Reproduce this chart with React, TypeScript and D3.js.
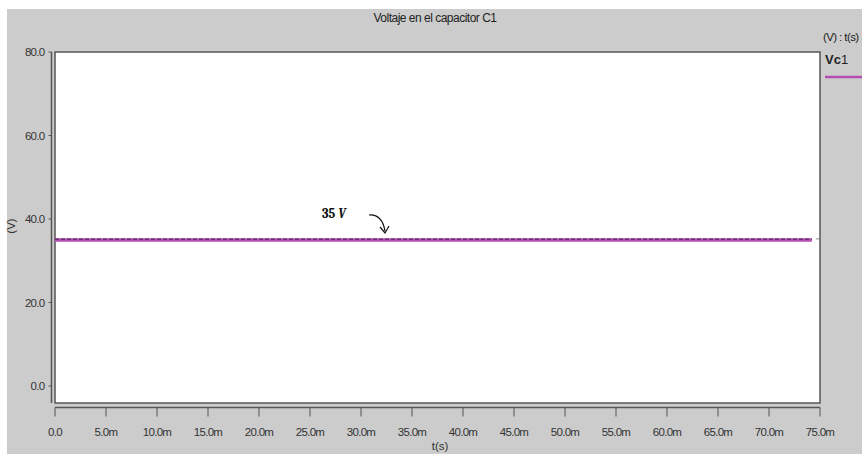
import React, { useEffect, useRef } from 'react';
import * as d3 from 'd3';

// data
const timeS = [0, 0.0742];
const vc1 = [35, 35];
const yTicks = [0, 20, 40, 60, 80];
const xTicks = [0, 5, 10, 15, 20, 25, 30, 35, 40, 45, 50, 55, 60, 65, 70, 75].map(d => d / 1000);
const seriesName = 'Vc1';

export default function App() {
  const ref = useRef<SVGSVGElement | null>(null);

  useEffect(() => {
    if (!ref.current) return;
    const svg = d3.select(ref.current);
    svg.selectAll('*').remove();

    const W = 862, H = 456;
    const left = 55, right = 820, top = 52;
    const font = '"Liberation Sans", Arial, sans-serif';

    // background
    svg.append('rect').attr('width', W).attr('height', H).attr('fill', '#ffffff');
    svg.append('rect').attr('x', 7).attr('y', 9).attr('width', W - 7).attr('height', H - 11).attr('fill', '#cccccc');

    const x = d3.scaleLinear().domain([0, 0.075]).range([left, right]);
    const y = d3.scaleLinear().domain([0, 80]).range([386, top]);
    const bottom = 403;

    // plot area
    svg.append('rect')
      .attr('x', left).attr('y', top)
      .attr('width', right - left).attr('height', bottom - top)
      .attr('fill', '#ffffff').attr('stroke', '#555').attr('stroke-width', 1.5);

    // y axis
    const ya = svg.append('g').attr('transform', 'translate(51.5,0)');
    ya.append('line').attr('y1', top).attr('y2', bottom).attr('stroke', '#555').attr('stroke-width', 1.5);
    ya.selectAll('line.t').data(yTicks).join('line').attr('class', 't')
      .attr('x1', -3).attr('x2', 0).attr('y1', d => y(d)).attr('y2', d => y(d))
      .attr('stroke', '#555');
    ya.selectAll('text').data(yTicks).join('text')
      .attr('x', -7).attr('y', d => y(d) + 4)
      .attr('text-anchor', 'end').attr('font-family', font).attr('font-size', 11.5)
      .attr('letter-spacing', -0.7).attr('fill', '#333')
      .text(d => d3.format('.1f')(d));

    // x axis
    const xa = svg.append('g').attr('transform', 'translate(0,407.5)');
    xa.append('line').attr('x1', left).attr('x2', right).attr('stroke', '#555').attr('stroke-width', 1.5);
    xa.selectAll('line.t').data(xTicks).join('line').attr('class', 't')
      .attr('x1', d => x(d)).attr('x2', d => x(d)).attr('y1', 0).attr('y2', 9)
      .attr('stroke', '#555');
    xa.selectAll('text').data(xTicks).join('text')
      .attr('x', d => x(d)).attr('y', 28)
      .attr('text-anchor', 'middle').attr('font-family', font).attr('font-size', 11.5)
      .attr('letter-spacing', -0.7).attr('fill', '#333')
      .text(d => d === 0 ? '0.0' : d3.format('.1f')(d * 1000) + 'm');

    // labels
    svg.append('text').attr('x', 435).attr('y', 22).attr('text-anchor', 'middle')
      .attr('font-family', font).attr('font-size', 12).attr('letter-spacing', -0.5).attr('fill', '#222')
      .text('Voltaje en el capacitor C1');
    svg.append('text').attr('x', 440).attr('y', 450).attr('text-anchor', 'middle')
      .attr('font-family', font).attr('font-size', 11.5).attr('fill', '#333').text('t(s)');
    svg.append('text').attr('transform', 'translate(15,226) rotate(-90)').attr('text-anchor', 'middle')
      .attr('font-family', font).attr('font-size', 11.5).attr('fill', '#333').text('(V)');

    // series
    const pts = timeS.map((t, i) => [t, vc1[i]] as [number, number]);
    const line = d3.line<[number, number]>().x(d => x(d[0])).y(d => y(d[1]));
    svg.append('path').datum(pts).attr('d', line).attr('fill', 'none')
      .attr('stroke', '#b44cb4').attr('stroke-width', 3.5);
    svg.append('path').datum(pts).attr('d', line).attr('fill', 'none')
      .attr('stroke', '#5a2a5a').attr('stroke-width', 1.3).attr('stroke-dasharray', '4,2')
      .attr('transform', 'translate(0,-0.7)');
    // end marker
    svg.append('line').attr('x1', x(0.0746)).attr('x2', x(0.0749)).attr('y1', y(35) - 1).attr('y2', y(35) - 1)
      .attr('stroke', '#888').attr('stroke-width', 1);

    // annotation
    const ann = svg.append('g');
    ann.append('text').attr('x', 322).attr('y', 218)
      .attr('font-family', 'Cambria, "DejaVu Serif", serif').attr('font-size', 13).attr('font-weight', 'bold').attr('fill', '#111')
      .text('35 ').append('tspan').attr('font-style', 'italic').text('V');
    ann.append('path').attr('d', 'M369,215 Q382,214 385,231').attr('fill', 'none').attr('stroke', '#111').attr('stroke-width', 1.2);
    ann.append('path').attr('d', 'M380,227 L385,233 L389,226').attr('fill', 'none').attr('stroke', '#111').attr('stroke-width', 1.2);

    // legend
    svg.append('text').attr('x', 823).attr('y', 41).attr('font-family', font).attr('font-size', 11.5)
      .attr('letter-spacing', -0.6).attr('fill', '#222').text('(V) : t(s)');
    const lg = svg.append('text').attr('x', 825).attr('y', 64).attr('font-family', font).attr('font-size', 13)
      .attr('fill', '#222');
    lg.append('tspan').attr('font-weight', 'bold').text(seriesName.slice(0, 2));
    lg.append('tspan').text(seriesName.slice(2));
    svg.append('line').attr('x1', 825).attr('x2', 862).attr('y1', 77).attr('y2', 77)
      .attr('stroke', '#b44cb4').attr('stroke-width', 2.5);
  }, []);

  return (
    <div style={{ position: 'fixed', left: 0, top: 0 }}>
      <svg ref={ref} width={862} height={456} style={{ display: 'block' }} />
    </div>
  );
}
